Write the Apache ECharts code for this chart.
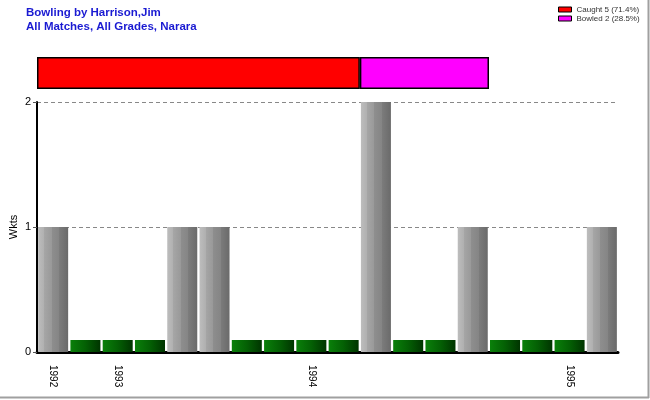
<!DOCTYPE html>
<html><head><meta charset="utf-8">
<script src="https://cdn.jsdelivr.net/npm/echarts@6/dist/echarts.min.js"></script>
<style>html,body{margin:0;padding:0;background:#fff}#c{width:650px;height:400px}</style>
</head><body><div id="c"></div>
<script>
var matches = ['m1','m2','m3','m4','m5','m6','m7','m8','m9','m10','m11','m12','m13','m14','m15','m16','m17','m18'];
var tickLabels = ['1992','','1993','','','','','','1994','','','','','','','','1995',''];
var wickets = [1,0,0,0,1,1,0,0,0,0,2,0,0,1,0,0,0,1];
var dismissalNames = ['Caught 5 (71.4%)','Bowled 2 (28.5%)'];
var dismissalValues = [5,2];
var dismissalColors = ['#ff0000','#ff00ff'];

var grayGrad = {type:'linear',x:0,y:0,x2:1,y2:0,colorStops:[
  {offset:0,color:'#bdbdbd'},{offset:0.2,color:'#b0b0b0'},{offset:0.2,color:'#a6a6a6'},
  {offset:0.45,color:'#999'},{offset:0.45,color:'#8e8e8e'},{offset:0.7,color:'#858585'},
  {offset:0.7,color:'#7c7c7c'},{offset:1,color:'#6a6a6a'}]};
var greenGrad = {type:'linear',x:0,y:0,x2:1,y2:0,colorStops:[
  {offset:0,color:'#0a800a'},{offset:0.5,color:'#046004'},{offset:1,color:'#003400'}]};

var chart = echarts.init(document.getElementById('c'), null, {renderer:'canvas'});
var series = [{
  type:'bar', xAxisIndex:0, yAxisIndex:0,
  data: wickets.map(function(v){return {value:v, itemStyle:{color: v>0?grayGrad:greenGrad}};}),
  barCategoryGap:'7%', barMinHeight:12, silent:true
}];
dismissalNames.forEach(function(n,i){
  series.push({type:'bar', name:n, xAxisIndex:1, yAxisIndex:1, stack:'d', barWidth:'100%',
    data:[dismissalValues[i]], itemStyle:{color:dismissalColors[i], borderColor:'#000', borderWidth:1.5}, silent:true});
});
chart.setOption({
  animation:false,
  title:{text:'Bowling by Harrison,Jim\nAll Matches, All Grades, Narara', left:26, top:6, padding:0,
    textStyle:{fontFamily:'Liberation Sans, Arial', fontSize:11.5, fontWeight:'bold', color:'#1a1ad2', lineHeight:14}},
  legend:{orient:'vertical', left:558, top:5, padding:0, itemWidth:13, itemHeight:5, itemGap:0,
    icon:'rect', data:dismissalNames,
    textStyle:{fontFamily:'Liberation Sans, Arial', fontSize:8, color:'#333', lineHeight:9},
    itemStyle:{borderColor:'#000', borderWidth:1}},
  grid:[{left:37, right:32, top:102, bottom:48, containLabel:false, outerBoundsMode:'none'},
        {left:37, top:57, width:452, height:32, containLabel:false, outerBoundsMode:'none'}],
  xAxis:[{type:'category', gridIndex:0, data:matches,
    axisLine:{lineStyle:{color:'#000', width:3}},
    axisTick:{alignWithLabel:true, length:6, lineStyle:{color:'#555'}},
    axisLabel:{interval:0, rotate:-90, margin:13, fontFamily:'Liberation Sans, Arial', fontSize:10, color:'#000',
      formatter:function(v,i){return tickLabels[i];}}},
    {type:'value', gridIndex:1, min:0, max:7, show:false}],
  yAxis:[{type:'value', gridIndex:0, min:0, max:2, interval:1, name:'Wkts', nameLocation:'middle', nameGap:18,
    nameMoveOverlap:false,
    nameTextStyle:{fontFamily:'Liberation Sans, Arial', fontSize:11, color:'#000'},
    axisLine:{show:true, lineStyle:{color:'#000', width:2}},
    axisTick:{show:true, length:4, lineStyle:{color:'#555'}},
    axisLabel:{margin:6, fontFamily:'Liberation Sans, Arial', fontSize:11, color:'#000'},
    splitLine:{lineStyle:{color:'#888', type:[4,3]}}},
    {type:'category', gridIndex:1, data:['d'], show:false}],
  series:series,
  graphic:[
    {type:'line', shape:{x1:648.5,y1:0,x2:648.5,y2:398}, style:{stroke:'#a0a0a0', lineWidth:2}},
    {type:'line', shape:{x1:0,y1:397.5,x2:649,y2:397.5}, style:{stroke:'#a0a0a0', lineWidth:2}}
  ]
});
</script></body></html>
